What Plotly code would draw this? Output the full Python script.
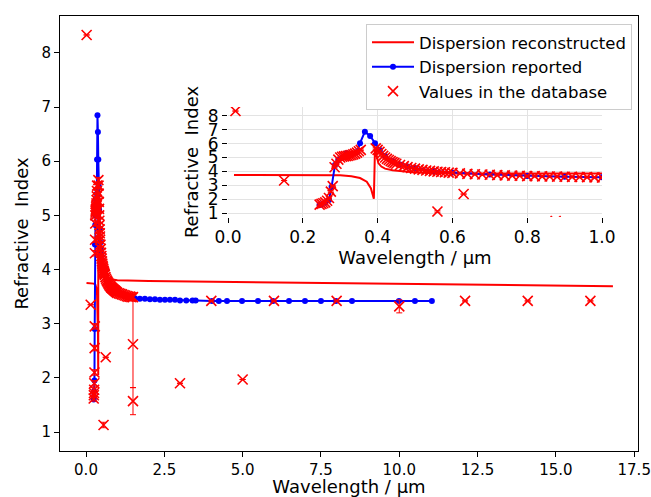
import plotly.graph_objects as go

# ---------------- data ----------------
# Dispersion reconstructed (red line)
rec_x = [0.016, 0.05, 0.10, 0.15, 0.20, 0.25, 0.30, 0.33, 0.353, 0.371, 0.382, 0.390,
         0.393, 0.397, 0.402, 0.41, 0.42, 0.44, 0.47, 0.50, 0.60, 0.80, 1.0, 2.0, 5.0,
         10.0, 14.0, 16.82]
rec_y = [3.75, 3.75, 3.75, 3.75, 3.75, 3.74, 3.72, 3.66, 3.53, 3.27, 2.80, 2.05,
         5.65, 5.20, 4.60, 4.35, 4.20, 4.08, 3.98, 3.93, 3.86, 3.82, 3.80, 3.79, 3.77,
         3.74, 3.71, 3.69]

# Dispersion reported (blue line with dots)
rep_x = [0.245, 0.25, 0.26, 0.27, 0.277, 0.286, 0.295, 0.305, 0.317, 0.33, 0.345, 0.353,
         0.366, 0.38, 0.393, 0.406, 0.42, 0.44, 0.46, 0.48, 0.50, 0.55, 0.60, 0.70, 0.80,
         0.90, 1.0, 1.1, 1.2, 1.3, 1.4, 1.5, 1.56, 1.72, 1.88, 2.04, 2.2, 2.36, 2.52, 2.68,
         2.84, 3.0, 3.2, 3.4, 3.5, 4.02, 4.24, 4.5, 4.98, 5.49, 5.97, 6.48, 6.99, 7.5,
         7.98, 8.49, 9.99, 10.5, 11.04]
rep_y = [1.60, 1.65, 1.75, 1.95, 2.90, 4.46, 4.82, 5.00, 5.30, 5.25, 5.40, 6.03,
         6.85, 6.54, 6.03, 5.54, 5.10, 4.75, 4.50, 4.35, 4.25, 4.05, 3.92, 3.78, 3.68,
         3.62, 3.58, 3.55, 3.52, 3.50, 3.49, 3.48, 3.47, 3.46, 3.46, 3.45, 3.45, 3.44, 3.44, 3.44,
         3.44, 3.43, 3.43, 3.43, 3.43, 3.42, 3.42, 3.42, 3.42, 3.42, 3.42, 3.42, 3.42, 3.42,
         3.42, 3.42, 3.42, 3.42, 3.42]

# Values in the database (red x with error bars)
db_x = [0.02, 0.15, 0.245, 0.250, 0.255, 0.260, 0.265, 0.270, 0.275, 0.280, 0.285, 0.290,
        0.295, 0.300, 0.305, 0.310, 0.315, 0.320, 0.325, 0.330, 0.335, 0.340, 0.345,
        0.350, 0.355, 0.395, 0.400, 0.405, 0.410, 0.415, 0.420, 0.425, 0.430, 0.435,
        0.440, 0.445, 0.450, 0.460, 0.470, 0.480, 0.490, 0.500, 0.510, 0.520, 0.530,
        0.540, 0.550, 0.560, 0.570, 0.580, 0.590, 0.600, 0.620, 0.640, 0.660, 0.680,
        0.700, 0.720, 0.740, 0.760, 0.780, 0.800, 0.820, 0.840, 0.860, 0.880, 0.900,
        0.920, 0.940, 0.960, 0.980, 1.00, 1.05, 1.10, 1.15, 1.20, 1.25, 1.30, 1.35,
        1.40, 1.45, 1.50,
        0.56, 0.63, 0.876, 1.5, 1.5, 3.0, 4.0, 5.0, 6.0, 8.0, 10.0, 12.1, 14.1, 16.1]
db_y = [8.33, 3.35, 1.62, 1.68, 1.72, 1.78, 1.90, 2.10, 2.55, 2.95, 4.30, 4.55,
        4.85, 5.00, 5.05, 5.08, 5.10, 5.12, 5.15, 5.18, 5.22, 5.28, 5.35,
        5.45, 5.55, 5.65, 5.55, 5.40, 5.25, 5.12, 5.00, 4.90, 4.82, 4.74,
        4.67, 4.61, 4.55, 4.46, 4.38, 4.31, 4.25, 4.20, 4.15, 4.11, 4.07,
        4.04, 4.01, 3.98, 3.96, 3.94, 3.92, 3.90, 3.86, 3.83, 3.80, 3.78,
        3.76, 3.74, 3.72, 3.70, 3.69, 3.67, 3.66, 3.65, 3.64, 3.63, 3.62,
        3.61, 3.60, 3.59, 3.58, 3.57, 3.56, 3.55, 3.54, 3.53, 3.52, 3.51, 3.50,
        3.50, 3.49, 3.49,
        1.13, 2.38, 0.45, 2.62, 1.57, 1.90, 3.42, 1.97, 3.42, 3.42, 3.32, 3.42, 3.42, 3.42]
db_err = [0.0, 0.0] + [0.05] * 80 + [0.05, 0.0, 0.05, 0.80, 0.25, 0.0, 0.0, 0.0, 0.0, 0.0,
                                      0.12, 0.0, 0.0, 0.0]

main_xticks = [0.0, 2.5, 5.0, 7.5, 10.0, 12.5, 15.0, 17.5]
main_yticks = [1, 2, 3, 4, 5, 6, 7, 8]
inset_xticks = [0.0, 0.2, 0.4, 0.6, 0.8, 1.0]
inset_yticks = [1, 2, 3, 4, 5, 6, 7, 8]

RED = "#ff0000"
BLUE = "#0000ff"
FONT = "DejaVu Sans"

fig = go.Figure()

for ax, show in (("", True), ("2", False)):
    xa, ya = "x" + ax, "y" + ax
    fig.add_trace(go.Scatter(x=rec_x, y=rec_y, mode="lines", name="Dispersion reconstructed",
                             line=dict(color=RED, width=2), showlegend=show,
                             xaxis=xa, yaxis=ya))
    fig.add_trace(go.Scatter(x=rep_x, y=rep_y, mode="lines+markers", name="Dispersion reported",
                             line=dict(color=BLUE, width=2),
                             marker=dict(color=BLUE, size=6, symbol="circle"),
                             showlegend=show, xaxis=xa, yaxis=ya))
    fig.add_trace(go.Scatter(x=db_x, y=db_y, mode="markers", name="Values in the database",
                             marker=dict(color=RED, size=10, symbol="x-thin",
                                         line=dict(color=RED, width=1.6)),
                             error_y=dict(type="data", array=db_err, visible=True,
                                          color=RED, thickness=1, width=3),
                             showlegend=show, xaxis=xa, yaxis=ya))

W, H = 651, 497


def px_x(a, b):
    return [a / W, b / W]


def px_y(top, bottom):
    return [1 - bottom / H, 1 - top / H]


fig.update_layout(
    width=W, height=H,
    margin=dict(l=0, r=0, t=0, b=0, autoexpand=False),
    paper_bgcolor="white", plot_bgcolor="white",
    font=dict(family=FONT, color="black"),
    showlegend=True,
    legend=dict(x=366 / W, y=1 - 24 / H, xanchor="left", yanchor="top",
                bgcolor="white", bordercolor="#cccccc", borderwidth=1, itemwidth=42,
                font=dict(size=16.5, family=FONT), tracegroupgap=0),
    xaxis=dict(domain=px_x(60, 638), range=[-0.83, 17.62], tickvals=main_xticks,
               tickformat=".1f", showgrid=False, zeroline=False, showline=True,
               linecolor="black", linewidth=1, mirror=True, ticks="outside", ticklen=5,
               tickcolor="black", tickfont=dict(size=15), automargin=False,
               title=dict(text="Wavelength / µm", font=dict(size=18), standoff=7),
               anchor="y"),
    yaxis=dict(domain=px_y(16, 451), range=[0.65, 8.68], tickvals=main_yticks,
               showgrid=False, zeroline=False, showline=True, linecolor="black",
               linewidth=1, mirror=True, ticks="outside", ticklen=5, tickcolor="black",
               tickfont=dict(size=15), automargin=False,
               title=dict(text="Refractive\u00a0 Index", font=dict(size=18), standoff=8),
               anchor="x"),
    xaxis2=dict(domain=px_x(228, 602), range=[0, 1.0], tickvals=inset_xticks,
                tickformat=".1f", showgrid=True, gridcolor="#e3e3e3", gridwidth=1.2,
                zeroline=False, showline=False, ticks="outside", ticklen=5,
                tickcolor="black", tickfont=dict(size=17), automargin=False,
                title=dict(text="Wavelength / µm", font=dict(size=18), standoff=4),
                anchor="y2"),
    yaxis2=dict(domain=px_y(107, 217), range=[0.735, 8.62], tickvals=inset_yticks,
                showgrid=True, gridcolor="#e3e3e3", gridwidth=1.2, zeroline=False,
                showline=False, ticks="outside", ticklen=5, tickcolor="black",
                tickfont=dict(size=17), automargin=False,
                title=dict(text="Refractive\u00a0 Index", font=dict(size=18), standoff=4),
                anchor="x2"),
)

fig.write_html(
    "out.html",
    config={"displayModeBar": False},
    post_script="document.body.style.margin='0';document.body.style.overflow='hidden';",
)
